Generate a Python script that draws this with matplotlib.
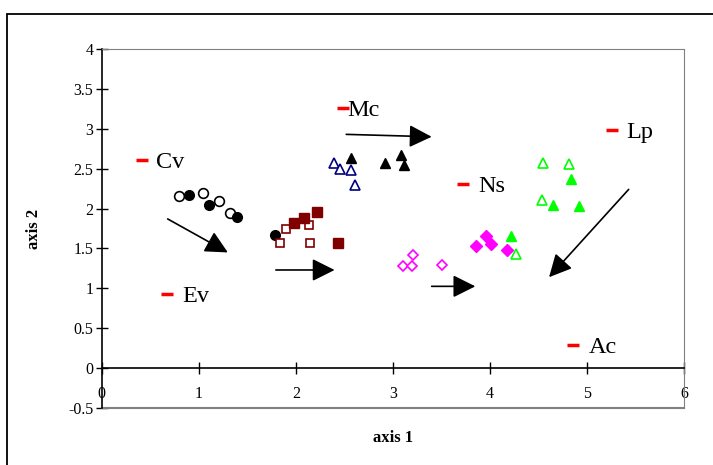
import matplotlib.pyplot as plt
from matplotlib.patches import Rectangle

# ---------------------------------------------------------------
# Data

circ_open_x = [0.80, 1.04, 1.205, 1.32]
circ_open_y = [2.16, 2.20, 2.10, 1.95]
circ_fill_x = [0.90, 1.105, 1.39, 1.79]
circ_fill_y = [2.17, 2.04, 1.90, 1.67]

sq_open_x = [1.84, 1.895, 2.135, 2.145]
sq_open_y = [1.57, 1.75, 1.80, 1.57]
sq_fill_x = [1.98, 2.08, 2.22, 2.43]
sq_fill_y = [1.82, 1.88, 1.96, 1.57]

tri_open_x = [2.39, 2.46, 2.565, 2.61]
tri_open_y = [2.575, 2.49, 2.48, 2.30]
tri_fill_x = [2.57, 2.92, 3.08, 3.11]
tri_fill_y = [2.64, 2.575, 2.67, 2.55]

dia_open_x = [3.10, 3.20, 3.21, 3.51]
dia_open_y = [1.275, 1.28, 1.416, 1.29]
dia_fill_x = [3.86, 3.96, 4.01, 4.18]
dia_fill_y = [1.53, 1.65, 1.55, 1.48]

grn_open_x = [4.27, 4.54, 4.55, 4.82]
grn_open_y = [1.43, 2.11, 2.575, 2.56]
grn_fill_x = [4.215, 4.65, 4.84, 4.92]
grn_fill_y = [1.66, 2.05, 2.37, 2.03]

names = ['Cv', 'Ev', 'Mc', 'Ns', 'Lp', 'Ac']
name_x = [0.42, 0.67, 2.49, 3.72, 5.26, 4.86]
name_y = [2.61, 0.93, 3.26, 2.31, 2.99, 0.295]
name_gap = [10, 11, 3, 11, 10, 11]

arr_x0 = [0.68, 1.795, 2.52, 3.40, 5.43]
arr_y0 = [1.87, 1.23, 2.93, 1.025, 2.24]
arr_x1 = [1.30, 2.40, 3.40, 3.85, 4.61]
arr_y1 = [1.45, 1.23, 2.90, 1.025, 1.14]

xticks = [0, 1, 2, 3, 4, 5, 6]
yticks = [-0.5, 0, 0.5, 1, 1.5, 2, 2.5, 3, 3.5, 4]

# ---------------------------------------------------------------
# Figure

plt.rcParams['font.family'] = ['Liberation Serif', 'DejaVu Serif']

fig = plt.figure(figsize=(7.13, 4.65), dpi=100)
ax = fig.add_axes([0.1426, 0.1226, 0.8167, 0.772])

# outer frame
fig.patches.append(Rectangle((7 / 713, -0.1), 1.2, 1 - 14 / 465 + 0.1,
                             transform=fig.transFigure, fill=False,
                             edgecolor='black', linewidth=1.3))

ms = 7
ax.plot(circ_open_x, circ_open_y, 'o', ms=ms, mfc='white', mec='black', mew=1.2, ls='none')
ax.plot(circ_fill_x, circ_fill_y, 'o', ms=ms, color='black', ls='none')
ax.plot(sq_open_x, sq_open_y, 's', ms=6.3, mfc='white', mec='#800000', mew=1.2, ls='none')
ax.plot(sq_fill_x, sq_fill_y, 's', ms=6.5, color='#800000', ls='none')
ax.plot(tri_open_x, tri_open_y, '^', ms=ms, mfc='white', mec='#000080', mew=1.2, ls='none')
ax.plot(tri_fill_x, tri_fill_y, '^', ms=ms, color='black', ls='none')
ax.plot(dia_open_x, dia_open_y, 'D', ms=5, mfc='white', mec='#FF00FF', mew=1.2, ls='none')
ax.plot(dia_fill_x, dia_fill_y, 'D', ms=5.8, color='#FF00FF', ls='none')
ax.plot(grn_open_x, grn_open_y, '^', ms=ms, mfc='white', mec='#00FF00', mew=1.2, ls='none')
ax.plot(grn_fill_x, grn_fill_y, '^', ms=ms, color='#00FF00', ls='none')

# species labels with red dash markers
ax.plot(name_x, name_y, '_', ms=9, mew=2.5, color='red', ls='none')
for n, x, y, g in zip(names, name_x, name_y, name_gap):
    ax.annotate(n, (x, y), xytext=(g, -2), textcoords='offset points',
                ha='left', va='center', fontsize=17.5)

# arrows
for x0, y0, x1, y1 in zip(arr_x0, arr_y0, arr_x1, arr_y1):
    ax.annotate('', xy=(x1, y1), xytext=(x0, y0),
                arrowprops=dict(arrowstyle='-|>,head_length=0.6,head_width=0.3',
                                mutation_scale=23, color='black', lw=1.2,
                                shrinkA=0, shrinkB=0))

ax.set_xlim(0, 6)
ax.set_ylim(-0.5, 4)
ax.set_xticks(xticks)
ax.set_yticks(yticks)
ax.set_yticklabels([('%g' % v) for v in yticks])

ax.spines['left'].set_color('black')
ax.spines['left'].set_linewidth(1.2)
ax.spines['bottom'].set_position(('data', 0))
ax.spines['bottom'].set_color('black')
ax.spines['bottom'].set_linewidth(1.2)
ax.spines['top'].set_color('#808080')
ax.spines['right'].set_color('#808080')
ax.plot([0, 6], [-0.5, -0.5], color='#808080', lw=1.5, clip_on=False)

ax.tick_params(axis='both', direction='inout', length=8, width=1, labelsize=11.5)
ax.tick_params(axis='x', pad=9)
ax.tick_params(axis='y', pad=2)

ax.set_xlabel('axis 1', fontsize=12, fontweight='bold', labelpad=20)
ax.set_ylabel('axis 2', fontsize=12, fontweight='bold', labelpad=19)

fig.savefig('out.png', dpi=100)
